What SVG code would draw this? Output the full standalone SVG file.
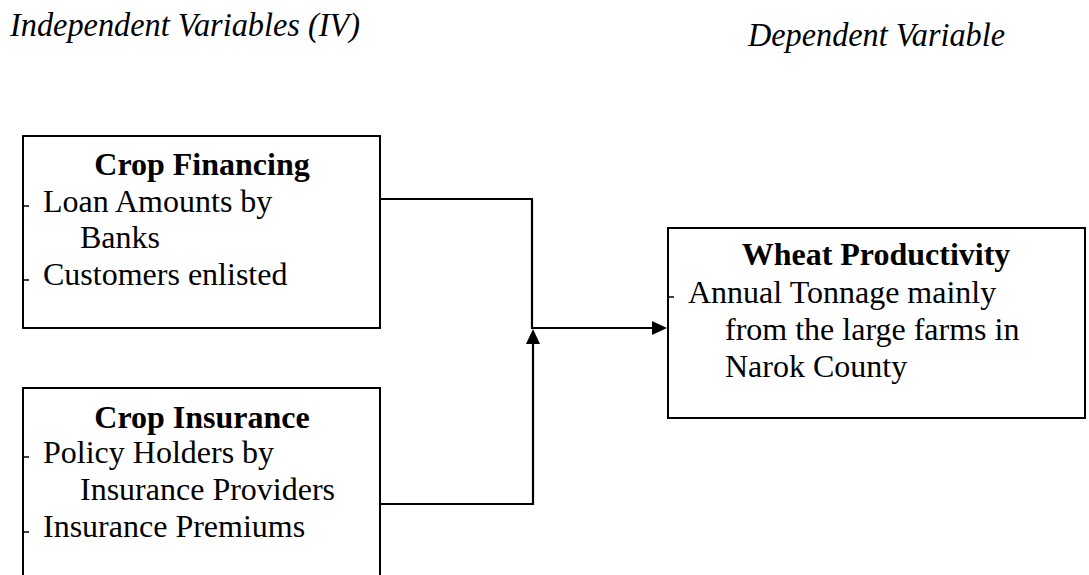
<svg xmlns="http://www.w3.org/2000/svg" width="1089" height="575" viewBox="0 0 1089 575">
<style>
.box{fill:#fff;stroke:#000;stroke-width:2}
.tick{stroke:#000;stroke-width:1.5}
.t{font-family:"Liberation Serif","Times New Roman",serif;font-size:32px;fill:#000}
.b{font-weight:bold}
.i{font-style:italic;font-size:33px}
.c{fill:none;stroke:#000;stroke-width:2.2}
.ah{fill:#000;stroke:none}
</style>
<rect width="1089" height="575" fill="#fff"/>
<text class="t i" x="10" y="36" textLength="350" lengthAdjust="spacingAndGlyphs">Independent Variables (IV)</text>
<text class="t i" x="748" y="46" textLength="257" lengthAdjust="spacingAndGlyphs">Dependent Variable</text>
<g id="crop-financing">
<rect class="box" x="23" y="136" width="357" height="192"/>
<text class="t b" x="202" y="175" text-anchor="middle">Crop Financing</text>
<line class="tick" x1="23" y1="206" x2="29" y2="206"/>
<text class="t" x="43" y="212">Loan Amounts by</text>
<text class="t" x="80" y="248">Banks</text>
<line class="tick" x1="23" y1="280" x2="29" y2="280"/>
<text class="t" x="43" y="285">Customers enlisted</text>
</g>
<g id="crop-insurance">
<rect class="box" x="23" y="388" width="357" height="200"/>
<text class="t b" x="202" y="428" text-anchor="middle">Crop Insurance</text>
<line class="tick" x1="23" y1="457" x2="29" y2="457"/>
<text class="t" x="43" y="463">Policy Holders by</text>
<text class="t" x="80" y="500">Insurance Providers</text>
<line class="tick" x1="23" y1="532" x2="29" y2="532"/>
<text class="t" x="43" y="537">Insurance Premiums</text>
</g>
<g id="wheat-productivity">
<rect class="box" x="668" y="228" width="417" height="190"/>
<text class="t b" x="876" y="265" text-anchor="middle">Wheat Productivity</text>
<line class="tick" x1="668" y1="297" x2="674" y2="297"/>
<text class="t" x="688" y="303">Annual Tonnage mainly</text>
<text class="t" x="725" y="340">from the large farms in</text>
<text class="t" x="725" y="377">Narok County</text>
</g>
<g id="connectors">
<polyline class="c" points="380,199 532,199 532,328 653,328"/>
<polygon class="ah" points="667,328 652,321 652,335"/>
<polyline class="c" points="380,504 533,504 533,342"/>
<polygon class="ah" points="533,329 526,344 540,344"/>
</g>
</svg>
